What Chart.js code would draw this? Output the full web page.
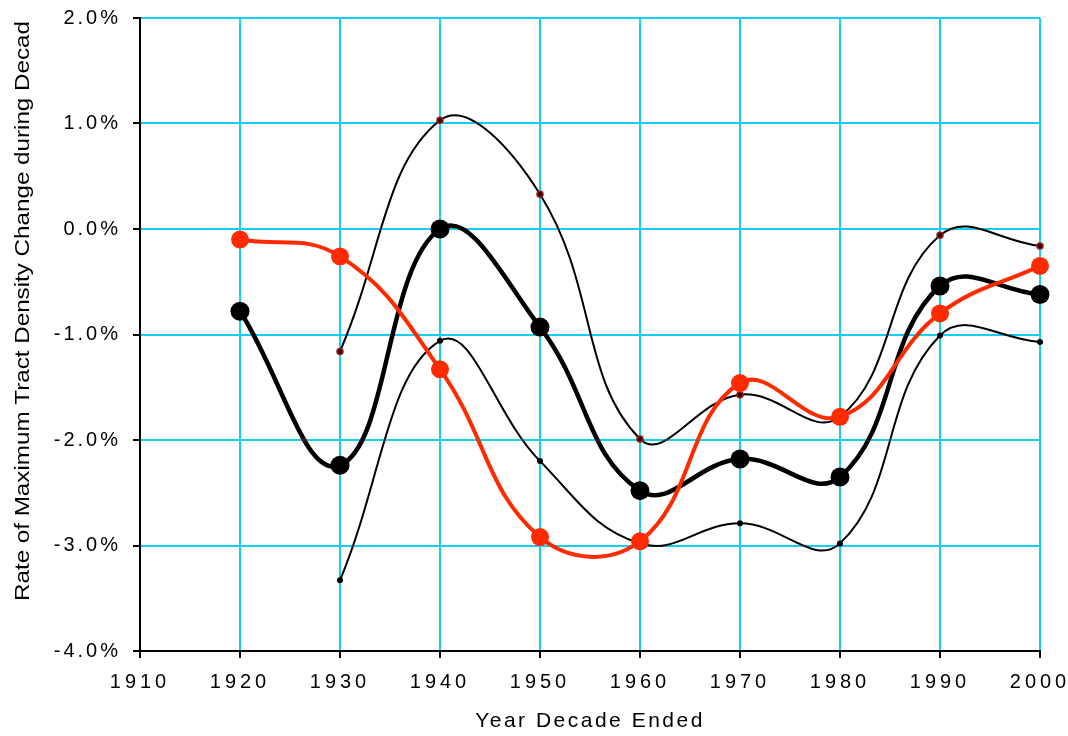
<!DOCTYPE html>
<html><head><meta charset="utf-8">
<script src="https://cdn.jsdelivr.net/npm/chart.js@4"></script>
<style>html,body{margin:0;padding:0;background:#fff}#wrap{width:1068px;height:736px}</style>
</head><body><div id="wrap"><canvas id="c" width="1068" height="736"></canvas></div>
<script>
// ---- data ----
const years      = [1920, 1930, 1940, 1950, 1960, 1970, 1980, 1990, 2000];
const boundYears = [1930, 1940, 1950, 1960, 1970, 1980, 1990, 2000];
const meanRate   = [-0.78, -2.24, 0.00, -0.93, -2.48, -2.18, -2.35, -0.54, -0.62];
const redRate    = [-0.10, -0.26, -1.33, -2.92, -2.96, -1.46, -1.78, -0.80, -0.35];
const upperBound = [-1.16, 1.03, 0.33, -1.99, -1.57, -1.78, -0.06, -0.16];
const lowerBound = [-3.33, -1.06, -2.20, -2.98, -2.79, -2.98, -1.01, -1.07];
const xTickValues = [1910, 1920, 1930, 1940, 1950, 1960, 1970, 1980, 1990, 2000];
const yTickValues = [-4, -3, -2, -1, 0, 1, 2];
const xTitle = 'Year Decade Ended';
const yTitle = 'Rate of Maximum Tract Density Change during Decade';

const pts = (xs, ys) => xs.map((x, i) => ({x: x, y: ys[i]}));
const FONT = '"Liberation Sans", Arial, sans-serif';
const GRID = '#12cff3';

const spacingPlugin = {
  id: 'spacing',
  afterUpdate(chart) {
    const cfg = [['x', '4px', '2.5px'], ['y', '3px', null]];
    for (const [id, sp, tsp] of cfg) {
      const s = chart.scales[id];
      if (!s || s._spWrapped) continue;
      const dl = s.drawLabels, dt = s.drawTitle;
      s.drawLabels = function (a) { const c = this.ctx; c.save(); c.letterSpacing = sp; dl.call(this, a); c.restore(); };
      if (tsp) s.drawTitle = function (a) { const c = this.ctx; c.save(); c.letterSpacing = tsp; dt.call(this, a); c.restore(); };
      s._spWrapped = true;
    }
  },
  afterDraw(chart) {
    const c = chart.ctx;
    c.save();
    c.beginPath(); c.rect(0, 20, 60, 716); c.clip();
    c.translate(29, 601);
    c.rotate(-Math.PI / 2);
    c.scale(1.152, 1);
    c.font = '21px ' + FONT;
    c.fillStyle = '#000';
    c.textAlign = 'left';
    c.textBaseline = 'alphabetic';
    c.fillText(yTitle, 0, 0);
    c.restore();
  }
};

new Chart(document.getElementById('c'), {
  type: 'line',
  data: {
    datasets: [
      {data: pts(years, redRate), borderColor: '#ff2a00', backgroundColor: '#ff2a00', borderWidth: 4,
       pointRadius: 9, pointBorderWidth: 0, pointBackgroundColor: '#ff2a00', tension: 0.42, clip: false},
      {data: pts(years, meanRate), borderColor: '#000', backgroundColor: '#000', borderWidth: 4.5,
       pointRadius: 9.5, pointBorderWidth: 0, pointBackgroundColor: '#000', tension: 0.42, clip: false},
      {data: pts(boundYears, upperBound), borderColor: '#000', borderWidth: 2,
       pointRadius: 3, pointBorderWidth: 1.5, pointBorderColor: '#9a1b12', pointBackgroundColor: '#2a0000', tension: 0.42, clip: false},
      {data: pts(boundYears, lowerBound), borderColor: '#000', borderWidth: 2,
       pointRadius: 3, pointBorderWidth: 0, pointBackgroundColor: '#000', tension: 0.42, clip: false}
    ]
  },
  options: {
    responsive: false,
    devicePixelRatio: 1,
    animation: false,
    layout: {padding: {top: 18, right: 28, left: 0, bottom: 0}},
    plugins: {legend: {display: false}, tooltip: {enabled: false}},
    scales: {
      x: {
        type: 'linear', min: 1910, max: 2000,
        afterBuildTicks: s => { s.ticks = xTickValues.map(v => ({value: v})); },
        afterFit: s => { s.height = 85; s.paddingLeft = 0; s.paddingRight = 0; },
        grid: {color: GRID, lineWidth: 2, tickColor: '#000', tickLength: 7, tickWidth: 2},
        border: {color: '#000', width: 2},
        ticks: {color: '#000', font: {family: FONT, size: 20}, padding: 12, maxRotation: 0, autoSkip: false,
                callback: v => String(v)},
        title: {display: true, text: xTitle, color: '#000', font: {family: FONT, size: 21}, padding: {top: 0, bottom: 2}}
      },
      y: {
        type: 'linear', min: -4, max: 2,
        afterBuildTicks: s => { s.ticks = yTickValues.map(v => ({value: v})); },
        afterFit: s => { s.width = 140; s.paddingTop = 0; s.paddingBottom = 0; },
        grid: {color: GRID, lineWidth: 2, tickColor: '#000', tickLength: 7, tickWidth: 2},
        border: {color: '#000', width: 2},
        ticks: {color: '#000', font: {family: FONT, size: 20}, padding: 12,
                callback: v => v.toFixed(1) + '%'}
      }
    }
  },
  plugins: [spacingPlugin]
});
</script>
</body></html>
